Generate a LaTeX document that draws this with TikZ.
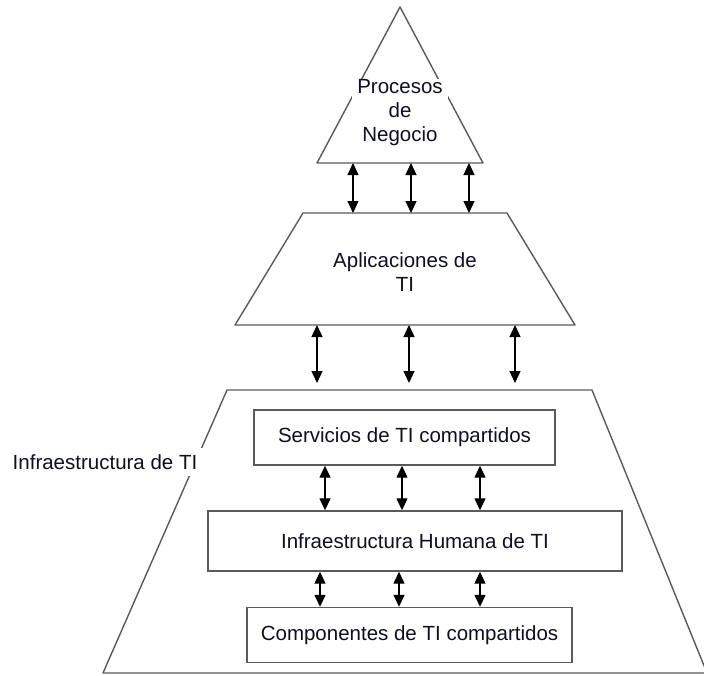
\documentclass[tikz,border=0pt]{standalone}
\usepackage{fontspec}
\setmainfont{Liberation Sans}
\usetikzlibrary{arrows.meta}
\definecolor{edge}{RGB}{90,90,90}
\definecolor{txt}{RGB}{15,15,35}

\begin{document}
\begin{tikzpicture}[x=1pt,y=-1pt,
  every node/.style={font=\fontsize{20.5}{24}\selectfont,text=txt},
  layer/.style={draw=edge,line width=1.4pt,line join=round},
  box/.style={draw=edge,line width=1.4pt,fill=white},
  link/.style={black,line width=1.3pt,{Triangle[length=12pt,width=11pt]}-{Triangle[length=12pt,width=11pt]}}]
  \useasboundingbox (0,0) rectangle (704,675);
  % corners of the three layers
  \coordinate (top) at (400,7);
  \coordinate (pbl) at (317,163);
  \coordinate (pbr) at (483,163);
  \coordinate (atl) at (303,213);
  \coordinate (atr) at (507,213);
  \coordinate (abl) at (235,325);
  \coordinate (abr) at (575,325);
  \coordinate (itl) at (227,390);
  \coordinate (itr) at (592,390);
  \coordinate (ibl) at (103,673);
  \coordinate (ibr) at (707,673);
  \draw[layer] (pbl) -- (top) -- (pbr) -- cycle;
  \draw[layer] (atl) -- (atr) -- (abr) -- (abl) -- cycle;
  \draw[layer] (itl) -- (itr) -- (ibr) -- (ibl) -- cycle;

  \node[fill=white,align=center,inner xsep=5pt,inner ysep=1pt] (pn) at (400,113) {Procesos\\de\\Negocio};
  \node[align=center] (ap) at (405,272) {Aplicaciones de\\TI};
  \node[fill=white,inner sep=6pt] (it) at (105,462) {Infraestructura de TI};

  \node[box,minimum width=301pt,minimum height=55pt] (serv) at (404.5,437.5) {Servicios de TI compartidos};
  \node[box,minimum width=414pt,minimum height=60pt] (hum) at (415,541) {Infraestructura Humana de TI};
  \node[box,minimum width=325pt,minimum height=55pt] (comp) at (409.5,635) {Componentes de TI compartidos};

  % links between layers
  \foreach \x in {353,411,469} {
    \coordinate (c) at (\x,0);
    \draw[link] (pbl -| c) -- (atl -| c);
  }
  \foreach \x in {317,409,515} {
    \coordinate (c) at (\x,0);
    \draw[link] (abl -| c) -- ([yshift=7pt]itl -| c);
  }
  \foreach \x in {325,402,480} {
    \coordinate (c) at (\x,0);
    \draw[link] (serv.south -| c) -- (hum.north -| c);
  }
  \foreach \x in {320,399,480} {
    \coordinate (c) at (\x,0);
    \draw[link] (hum.south -| c) -- (comp.north -| c);
  }
\end{tikzpicture}
\end{document}
